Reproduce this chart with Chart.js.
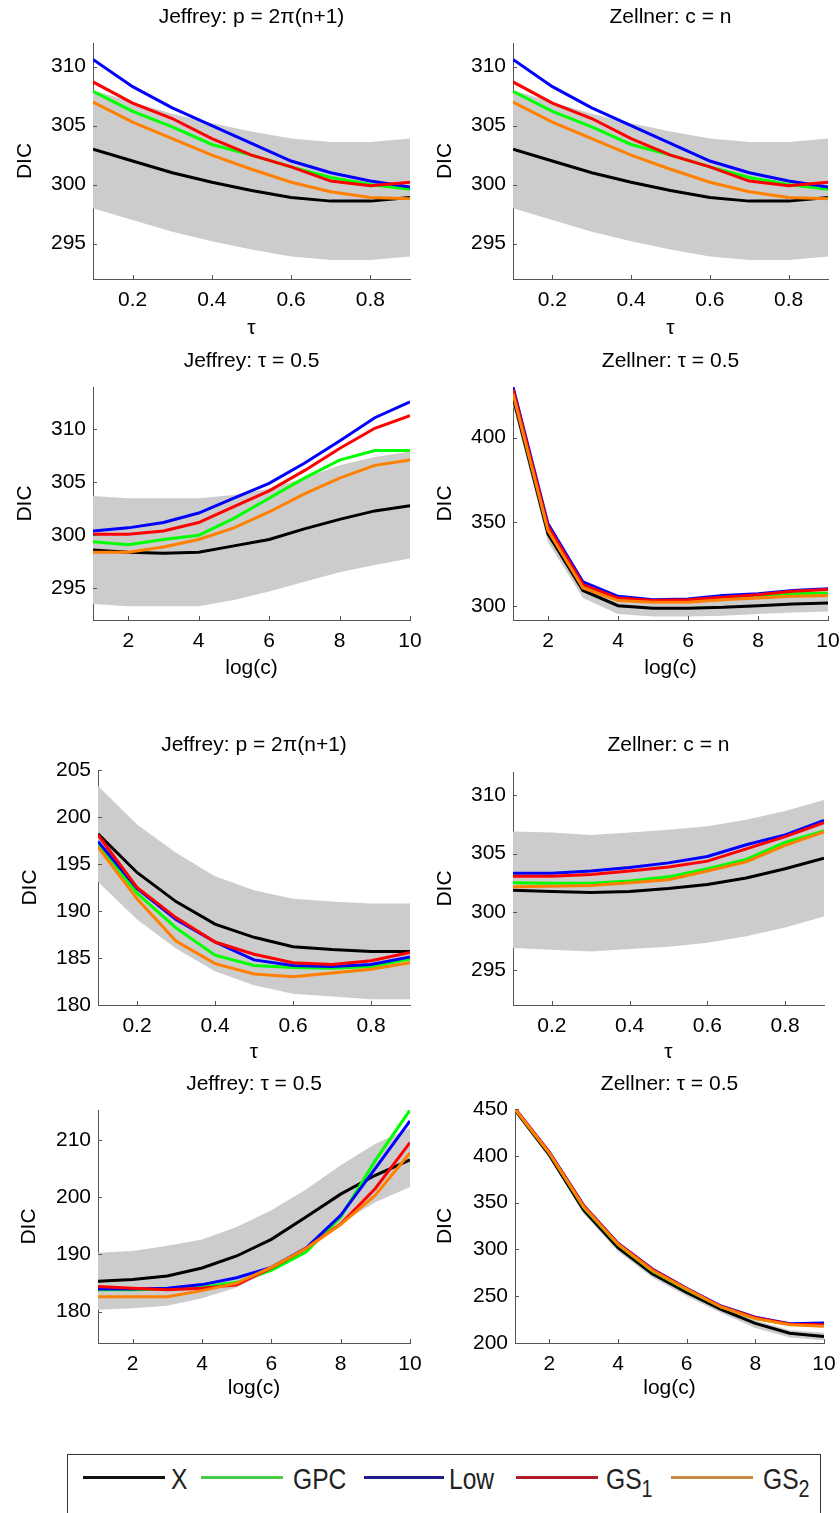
<!DOCTYPE html>
<html>
<head>
<meta charset="utf-8">
<script src="https://cdn.jsdelivr.net/npm/chart.js@4.4.1/dist/chart.umd.min.js"></script>
<style>
  html, body { margin: 0; padding: 0; background: #fff; overflow: hidden; }
  #page { position: relative; width: 840px; height: 1513px; overflow: hidden; }
  canvas { position: absolute; }
  #legend { position: absolute; left: 67px; top: 1454px; width: 754px; height: 90px;
            border: 1px solid #333; box-sizing: border-box; }
  .lg-line { position: absolute; height: 3px; top: 21px; }
  .lg-text { position: absolute; top: 9px; font: 30px "Liberation Sans", Arial, sans-serif;
             line-height: 30px; color: #222; transform: scaleX(0.82); transform-origin: left top;
             white-space: nowrap; }
  .lg-text sub { font-size: 24px; vertical-align: -8px; line-height: 0; }
</style>
</head>
<body>
<div id="page">
  <canvas id="p1"></canvas><canvas id="p2"></canvas>
  <canvas id="p3"></canvas><canvas id="p4"></canvas>
  <canvas id="p5"></canvas><canvas id="p6"></canvas>
  <canvas id="p7"></canvas><canvas id="p8"></canvas>
  <div id="legend">
    <div class="lg-line" style="left:15px;width:82px;background:#111"></div>
    <div class="lg-text" style="left:103px">X</div>
    <div class="lg-line" style="left:133px;width:82px;background:#48cc48"></div>
    <div class="lg-text" style="left:225px">GPC</div>
    <div class="lg-line" style="left:296px;width:80px;background:#1c1c8a"></div>
    <div class="lg-text" style="left:381px">Low</div>
    <div class="lg-line" style="left:448px;width:82px;background:#b01c2c"></div>
    <div class="lg-text" style="left:538px">GS<sub>1</sub></div>
    <div class="lg-line" style="left:603px;width:82px;background:#c98a45"></div>
    <div class="lg-text" style="left:695px">GS<sub>2</sub></div>
  </div>
</div>
<script>
const tauGrid = [0.1, 0.2, 0.3, 0.4, 0.5, 0.6, 0.7, 0.8, 0.9];
const logcGrid = [1, 2, 3, 4, 5, 6, 7, 8, 9, 10];
const tauTicks = [0.2, 0.4, 0.6, 0.8];
const logcTicks = [2, 4, 6, 8, 10];

// row 1 (Jeffrey p = 2pi(n+1) and Zellner c = n look the same)
const r1X      = [303.0, 302.0, 301.0, 300.2, 299.5, 298.9, 298.6, 298.6, 298.9];
const r1GPC    = [307.9, 306.2, 304.9, 303.4, 302.5, 301.5, 300.6, 300.0, 299.6];
const r1Low    = [310.6, 308.3, 306.5, 305.0, 303.5, 302.0, 301.0, 300.3, 299.8];
const r1GS1    = [308.7, 306.9, 305.6, 303.9, 302.5, 301.5, 300.3, 299.9, 300.2];
const r1GS2    = [307.0, 305.3, 303.9, 302.5, 301.3, 300.2, 299.4, 298.9, 298.8];
const r1BandHi = [308.0, 307.0, 306.0, 305.2, 304.5, 303.9, 303.6, 303.6, 303.9];
const r1BandLo = [298.0, 297.0, 296.0, 295.2, 294.5, 293.9, 293.6, 293.6, 293.9];
const r1Ticks  = [295, 300, 305, 310];

// row 2 left: Jeffrey tau = 0.5
const r2jX      = [298.6, 298.4, 298.3, 298.4, 299.0, 299.6, 300.6, 301.5, 302.3, 302.8];
const r2jGPC    = [299.4, 299.1, 299.6, 300.0, 301.6, 303.5, 305.4, 307.1, 308.0, 308.0];
const r2jLow    = [300.4, 300.7, 301.2, 302.1, 303.5, 304.9, 306.8, 308.9, 311.1, 312.6];
const r2jGS1    = [300.1, 300.1, 300.4, 301.2, 302.7, 304.2, 306.1, 308.2, 310.1, 311.3];
const r2jGS2    = [298.4, 298.4, 298.9, 299.6, 300.7, 302.2, 303.9, 305.4, 306.6, 307.1];
const r2jBandHi = [303.7, 303.5, 303.5, 303.5, 303.8, 304.4, 305.4, 306.6, 307.4, 307.9];
const r2jBandLo = [293.5, 293.3, 293.3, 293.3, 293.9, 294.7, 295.6, 296.5, 297.2, 297.8];
const r2jTicks  = [295, 300, 305, 310];

// row 2 right: Zellner tau = 0.5
const r2zX      = [424, 343, 309.5, 300.5, 299, 299, 299.5, 300.5, 301.5, 302];
const r2zGPC    = [427, 346, 311.5, 304, 303, 303.5, 305, 306, 307.5, 308];
const r2zLow    = [430, 349, 314.5, 306, 304, 304.5, 306.5, 307.5, 309.5, 310.5];
const r2zGS1    = [428.5, 347.5, 313, 305, 303.5, 304, 305.5, 307, 309, 310];
const r2zGS2    = [426, 345, 311, 303.5, 302.5, 302.5, 304, 305, 306, 306.5];
const r2zBandHi = [429, 348, 314, 305.5, 304, 304, 304.5, 305.5, 306.5, 307];
const r2zBandLo = [419, 338, 305, 295.5, 294, 294, 294.5, 295.5, 296.5, 297];
const r2zTicks  = [300, 350, 400];

// row 3 left: Jeffrey p = 2pi(n+1)
const r3jX      = [198.2, 194.1, 191.0, 188.6, 187.2, 186.2, 185.9, 185.7, 185.7];
const r3jGPC    = [197.1, 191.9, 188.2, 185.3, 184.2, 184.0, 183.9, 184.1, 184.9];
const r3jLow    = [197.4, 192.4, 189.1, 186.7, 184.8, 184.2, 184.1, 184.3, 185.1];
const r3jGS1    = [198.1, 192.5, 189.3, 186.7, 185.4, 184.5, 184.3, 184.7, 185.6];
const r3jGS2    = [196.8, 191.3, 186.8, 184.4, 183.3, 183.0, 183.4, 183.8, 184.5];
const r3jBandHi = [203.3, 199.2, 196.2, 193.7, 192.2, 191.3, 191.0, 190.8, 190.8];
const r3jBandLo = [193.1, 189.1, 186.0, 183.6, 182.1, 181.2, 180.9, 180.6, 180.6];
const r3jTicks  = [180, 185, 190, 195, 200, 205];

// row 3 right: Zellner c = n
const r3zX      = [301.85, 301.75, 301.65, 301.75, 302.0, 302.35, 302.9, 303.7, 304.6];
const r3zGPC    = [302.5, 302.45, 302.45, 302.65, 303.0, 303.7, 304.5, 305.95, 306.95];
const r3zLow    = [303.3, 303.3, 303.5, 303.8, 304.2, 304.75, 305.75, 306.6, 307.85];
const r3zGS1    = [303.05, 303.05, 303.2, 303.5, 303.85, 304.35, 305.4, 306.45, 307.65];
const r3zGS2    = [302.15, 302.2, 302.25, 302.5, 302.75, 303.5, 304.3, 305.7, 306.85];
const r3zBandHi = [306.9, 306.8, 306.6, 306.8, 307.05, 307.35, 307.9, 308.65, 309.6];
const r3zBandLo = [296.9, 296.75, 296.6, 296.8, 297.0, 297.35, 297.9, 298.65, 299.6];
const r3zTicks  = [295, 300, 305, 310];

// row 4 left: Jeffrey tau = 0.5
const r4jX      = [185.3, 185.6, 186.2, 187.6, 189.7, 192.6, 196.5, 200.5, 203.8, 206.5];
const r4jGPC    = [183.8, 183.8, 183.95, 184.25, 185.1, 187.2, 190.4, 196.5, 206.4, 215.2];
const r4jLow    = [183.95, 183.95, 184.05, 184.7, 185.9, 187.7, 191.1, 196.8, 205.0, 213.3];
const r4jGS1    = [184.35, 184.05, 183.8, 184.05, 184.65, 187.6, 191.0, 195.3, 201.5, 209.5];
const r4jGS2    = [182.6, 182.6, 182.6, 183.65, 184.95, 187.7, 191.0, 195.2, 200.3, 207.7];
const r4jBandHi = [190.25, 190.55, 191.5, 192.6, 194.75, 197.7, 201.3, 205.55, 209.3, 212.0];
const r4jBandLo = [180.3, 180.55, 181.0, 182.3, 184.2, 187.2, 191.1, 195.45, 199.1, 201.75];
const r4jTicks  = [180, 190, 200, 210];

// row 4 right: Zellner tau = 0.5
const r4zX      = [449, 401, 342, 302, 274, 254, 236, 221, 210.5, 207];
const r4zGPC    = [450, 403, 345, 305, 277, 257, 238.5, 226, 220, 219];
const r4zLow    = [450.5, 404, 347, 306.5, 279, 258.5, 239.5, 227.5, 220.5, 221.5];
const r4zGS1    = [450.5, 403.5, 346.5, 306, 278.5, 258, 239, 227, 220, 219.5];
const r4zGS2    = [450, 403, 345.5, 305.5, 277.5, 257.5, 238.5, 226, 219.5, 218];
const r4zBandHi = [452, 404, 345, 305, 277, 257, 239, 224, 214, 211];
const r4zBandLo = [446, 397, 338, 298, 270, 250, 232, 216, 206, 203];
const r4zTicks  = [200, 250, 300, 350, 400, 450];

const FONT = '"Liberation Sans", Arial, sans-serif';
const AXIS = '#555';

const inwardTicks = {
    id: "inwardTicks",
    afterDatasetsDraw(chart) {
        const { ctx, chartArea: a, scales: { x, y } } = chart;
        ctx.save();
        ctx.strokeStyle = AXIS;
        ctx.lineWidth = 1;
        ctx.beginPath();
        for (const t of x.ticks) {
            const px = Math.round(x.getPixelForValue(t.value)) + 0.5;
            ctx.moveTo(px, a.bottom);
            ctx.lineTo(px, a.bottom - 4);
        }
        for (const t of y.ticks) {
            const py = Math.round(y.getPixelForValue(t.value)) + 0.5;
            ctx.moveTo(a.left, py);
            ctx.lineTo(a.left + 4, py);
        }
        ctx.stroke();
        ctx.restore();
    }
};

function pts(xs, ys) {
    return xs.map((x, i) => ({ x: x, y: ys[i] }));
}

function line(xs, ys, color) {
    return { data: pts(xs, ys), borderColor: color, borderWidth: 3, pointRadius: 0,
             tension: 0, fill: false };
}

function makePanel(p) {
    const canvas = document.getElementById(p.id);
    const W = p.right + 25 - p.ox;
    const H = p.xLabelY + 16 - p.oy;
    canvas.width = W; canvas.height = H;
    canvas.style.left = p.ox + "px"; canvas.style.top = p.oy + "px";
    canvas.style.width = W + "px"; canvas.style.height = H + "px";

    const fs = 21, lh = fs * 1.2;
    const titleTop = p.titleY - p.oy - lh / 2;
    const titleBottom = (p.top - p.oy) - lh - titleTop;

    new Chart(canvas, {
        type: "line",
        data: {
            datasets: [
                Object.assign(line(p.xs, p.s.GS2, "#ff8000"), { order: 1 }),
                Object.assign(line(p.xs, p.s.GS1, "#ff0000"), { order: 2 }),
                Object.assign(line(p.xs, p.s.Low, "#0000ff"), { order: 3 }),
                Object.assign(line(p.xs, p.s.GPC, "#00ff00"), { order: 4 }),
                Object.assign(line(p.xs, p.s.X, "#000000"), { order: 5 }),
                { data: pts(p.xs, p.s.hi), borderWidth: 0, borderColor: "rgba(0,0,0,0)",
                  pointRadius: 0, tension: 0, fill: "+1", backgroundColor: "#cccccc", order: 6 },
                { data: pts(p.xs, p.s.lo), borderWidth: 0, borderColor: "rgba(0,0,0,0)",
                  pointRadius: 0, tension: 0, fill: false, order: 7 }
            ]
        },
        options: {
            responsive: false,
            animation: false,
            devicePixelRatio: 1,
            layout: { padding: { left: 0, top: 0, right: p.ox + W - p.right, bottom: 0 } },
            plugins: {
                legend: { display: false },
                tooltip: { enabled: false },
                title: {
                    display: true, text: p.title, color: "#000", fullSize: false,
                    font: { family: FONT, size: fs, weight: "normal", lineHeight: 1.2 },
                    padding: { top: titleTop, bottom: titleBottom }
                }
            },
            scales: {
                x: {
                    type: "linear", min: p.xs[0], max: p.xs[p.xs.length - 1],
                    grid: { display: false, drawTicks: false },
                    border: { display: true, color: AXIS, width: 1 },
                    ticks: { color: "#000", padding: 9, maxRotation: 0, autoSkip: false,
                             font: { family: FONT, size: fs } },
                    title: { display: true, text: p.xLabel, color: "#000",
                             font: { family: FONT, size: fs, lineHeight: 1.2 },
                             padding: { top: 0, bottom: (p.oy + H) - p.xLabelY - lh / 2 } },
                    afterBuildTicks: (s) => { s.ticks = p.xTicks.map(v => ({ value: v })); },
                    afterFit: (s) => { s.height = p.oy + H - p.bottom; }
                },
                y: {
                    type: "linear", min: p.yMin, max: p.yMax,
                    grid: { display: false, drawTicks: false },
                    border: { display: true, color: AXIS, width: 1 },
                    ticks: { color: "#000", padding: 7, autoSkip: false,
                             font: { family: FONT, size: fs } },
                    title: { display: true, text: "DIC", color: "#000",
                             font: { family: FONT, size: fs, lineHeight: 1.2 },
                             padding: { top: p.yLabelX - p.ox - lh / 2, bottom: 0 } },
                    afterBuildTicks: (s) => { s.ticks = p.yTicks.map(v => ({ value: v })); },
                    afterFit: (s) => { s.width = p.left - p.ox; }
                }
            }
        },
        plugins: [inwardTicks]
    });
}

const row1 = { X: r1X, GPC: r1GPC, Low: r1Low, GS1: r1GS1, GS2: r1GS2, hi: r1BandHi, lo: r1BandLo };

const panels = [
    { id: "p1", title: "Jeffrey: p = 2π(n+1)", xLabel: "τ", xs: tauGrid, xTicks: tauTicks,
      s: row1, yMin: 292, yMax: 312, yTicks: r1Ticks,
      ox: 0, oy: 0, left: 93, top: 43, right: 410, bottom: 279, titleY: 17, xLabelY: 328, yLabelX: 25 },
    { id: "p2", title: "Zellner: c = n", xLabel: "τ", xs: tauGrid, xTicks: tauTicks,
      s: row1, yMin: 292, yMax: 312, yTicks: r1Ticks,
      ox: 420, oy: 0, left: 513, top: 43, right: 828, bottom: 279, titleY: 17, xLabelY: 328, yLabelX: 445 },
    { id: "p3", title: "Jeffrey: τ = 0.5", xLabel: "log(c)", xs: logcGrid, xTicks: logcTicks,
      s: { X: r2jX, GPC: r2jGPC, Low: r2jLow, GS1: r2jGS1, GS2: r2jGS2, hi: r2jBandHi, lo: r2jBandLo },
      yMin: 292, yMax: 314, yTicks: r2jTicks,
      ox: 0, oy: 340, left: 93, top: 387, right: 410, bottom: 620, titleY: 361, xLabelY: 668, yLabelX: 25 },
    { id: "p4", title: "Zellner: τ = 0.5", xLabel: "log(c)", xs: logcGrid, xTicks: logcTicks,
      s: { X: r2zX, GPC: r2zGPC, Low: r2zLow, GS1: r2zGS1, GS2: r2zGS2, hi: r2zBandHi, lo: r2zBandLo },
      yMin: 292, yMax: 430, yTicks: r2zTicks,
      ox: 420, oy: 340, left: 513, top: 387, right: 828, bottom: 620, titleY: 361, xLabelY: 668, yLabelX: 445 },
    { id: "p5", title: "Jeffrey: p = 2π(n+1)", xLabel: "τ", xs: tauGrid, xTicks: tauTicks,
      s: { X: r3jX, GPC: r3jGPC, Low: r3jLow, GS1: r3jGS1, GS2: r3jGS2, hi: r3jBandHi, lo: r3jBandLo },
      yMin: 180, yMax: 205, yTicks: r3jTicks,
      ox: 0, oy: 725, left: 98, top: 770, right: 410, bottom: 1005, titleY: 745, xLabelY: 1052, yLabelX: 30 },
    { id: "p6", title: "Zellner: c = n", xLabel: "τ", xs: tauGrid, xTicks: tauTicks,
      s: { X: r3zX, GPC: r3zGPC, Low: r3zLow, GS1: r3zGS1, GS2: r3zGS2, hi: r3zBandHi, lo: r3zBandLo },
      yMin: 292, yMax: 312, yTicks: r3zTicks,
      ox: 420, oy: 725, left: 513, top: 772, right: 824, bottom: 1005, titleY: 745, xLabelY: 1052, yLabelX: 445 },
    { id: "p7", title: "Jeffrey: τ = 0.5", xLabel: "log(c)", xs: logcGrid, xTicks: logcTicks,
      s: { X: r4jX, GPC: r4jGPC, Low: r4jLow, GS1: r4jGS1, GS2: r4jGS2, hi: r4jBandHi, lo: r4jBandLo },
      yMin: 174.5, yMax: 215.2, yTicks: r4jTicks,
      ox: 0, oy: 1060, left: 98, top: 1110, right: 410, bottom: 1343, titleY: 1084, xLabelY: 1388, yLabelX: 29 },
    { id: "p8", title: "Zellner: τ = 0.5", xLabel: "log(c)", xs: logcGrid, xTicks: logcTicks,
      s: { X: r4zX, GPC: r4zGPC, Low: r4zLow, GS1: r4zGS1, GS2: r4zGS2, hi: r4zBandHi, lo: r4zBandLo },
      yMin: 200, yMax: 450, yTicks: r4zTicks,
      ox: 420, oy: 1060, left: 515, top: 1109, right: 824, bottom: 1343, titleY: 1084, xLabelY: 1388, yLabelX: 445 }
];

panels.forEach(makePanel);
</script>
</body>
</html>
